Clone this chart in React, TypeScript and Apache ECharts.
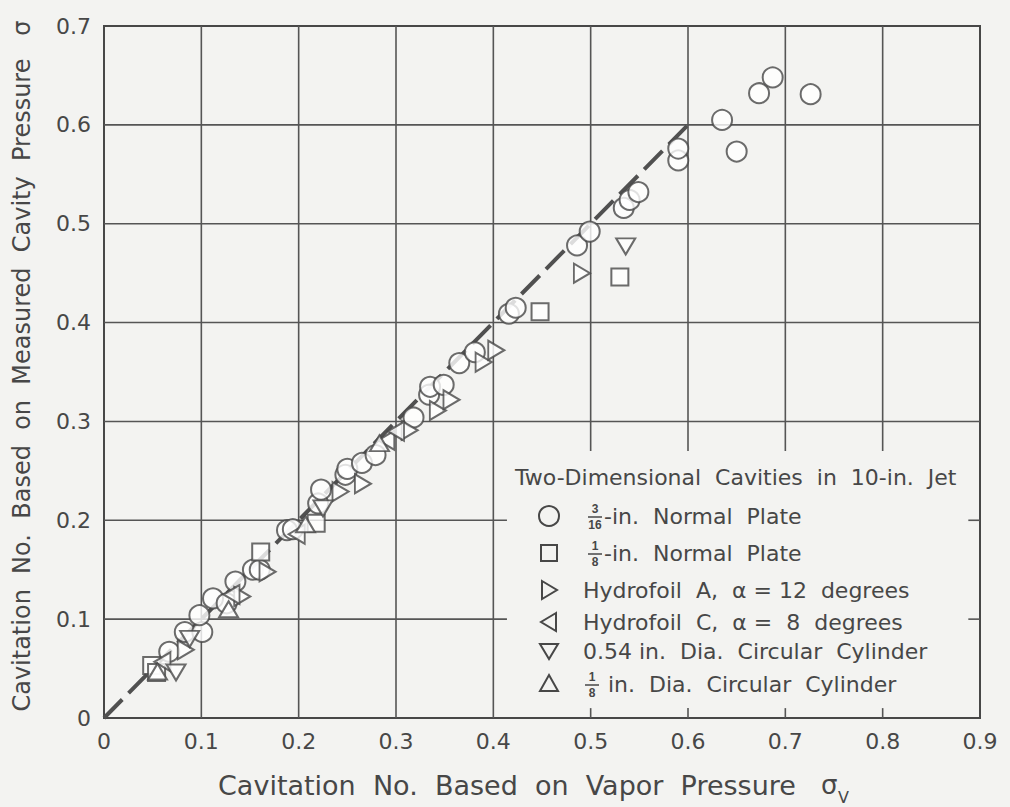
import React, { useEffect, useRef } from "react";
import * as echarts from "echarts";

// ---- data ----
const xTickValues = [0, 0.1, 0.2, 0.3, 0.4, 0.5, 0.6, 0.7, 0.8, 0.9];
const yTickValues = [0, 0.1, 0.2, 0.3, 0.4, 0.5, 0.6, 0.7];

const plate316: number[][] = [
  [0.067, 0.067], [0.083, 0.087], [0.101, 0.087], [0.098, 0.104], [0.112, 0.121],
  [0.126, 0.116], [0.135, 0.138], [0.153, 0.15], [0.16, 0.15], [0.188, 0.19],
  [0.194, 0.191], [0.22, 0.217], [0.223, 0.231], [0.248, 0.246], [0.25, 0.252],
  [0.265, 0.258], [0.279, 0.266], [0.318, 0.304], [0.334, 0.327], [0.335, 0.335],
  [0.349, 0.337], [0.365, 0.359], [0.381, 0.37], [0.416, 0.409], [0.423, 0.415],
  [0.486, 0.478], [0.499, 0.492], [0.534, 0.516], [0.54, 0.524], [0.549, 0.532],
  [0.59, 0.564], [0.59, 0.576], [0.635, 0.605], [0.65, 0.573], [0.673, 0.632],
  [0.687, 0.648], [0.726, 0.631],
];
const plate18: number[][] = [
  [0.049, 0.053], [0.054, 0.046], [0.161, 0.168], [0.218, 0.197], [0.448, 0.411], [0.53, 0.446],
];
const hydrofoilA: number[][] = [
  [0.084, 0.069], [0.142, 0.123], [0.168, 0.148], [0.243, 0.229], [0.266, 0.237],
  [0.314, 0.291], [0.343, 0.311], [0.357, 0.322], [0.39, 0.36], [0.403, 0.372], [0.491, 0.45],
];
const hydrofoilC: number[][] = [
  [0.06, 0.057], [0.131, 0.125], [0.198, 0.186], [0.29, 0.281], [0.3, 0.29],
];
const cylinder054: number[][] = [
  [0.074, 0.046], [0.088, 0.08], [0.225, 0.212], [0.536, 0.477],
];
const cylinder18: number[][] = [
  [0.055, 0.047], [0.128, 0.11], [0.207, 0.196], [0.283, 0.278],
];
const equalityLine: number[][] = [[0, 0], [0.6, 0.6]];

const seriesNames = [
  "3/16-in. Normal Plate",
  "1/8-in. Normal Plate",
  "Hydrofoil A, α = 12 degrees",
  "Hydrofoil C, α = 8 degrees",
  "0.54 in. Dia. Circular Cylinder",
  "1/8 in. Dia. Circular Cylinder",
];

// legend panel extent in data units (blank area that interrupts the grid)
const panelX = [0.414, 0.888];
const panelY = [0.01, 0.27];

const INK = "#474747";
const GRID = "#555555";
const BG = "#f3f3f1";
const FONT = '"DejaVu Sans", sans-serif';

const SYM_RIGHT = "path://M0,0L17,10L0,20Z";
const SYM_LEFT = "path://M17,0L0,10L17,20Z";
const SYM_DOWN = "path://M0,0L20,0L10,17Z";
const SYM_UP = "path://M10,0L20,17L0,17Z";

export default function App() {
  const ref = useRef<HTMLDivElement>(null);

  useEffect(() => {
    if (!ref.current) return;
    const chart = echarts.init(ref.current, undefined, { renderer: "svg" });

    const markStyle = { color: "#ffffff", borderColor: INK, borderWidth: 2 };
    const scatter = (name: string, data: number[][], symbol: string, size: number | number[]) => ({
      type: "scatter",
      name,
      data,
      symbol,
      symbolSize: size,
      itemStyle: markStyle,
      z: 4,
      silent: true,
    });

    const labelFmt = (v: number) => (v === 0 ? "0" : v.toFixed(1));

    chart.setOption({
      animation: false,
      backgroundColor: BG,
      grid: {
        left: 104,
        right: 30,
        top: 26,
        bottom: 89,
        show: true,
        borderColor: INK,
        borderWidth: 2,
        backgroundColor: "transparent",
      },
      xAxis: {
        type: "value",
        min: 0,
        max: 0.9,
        interval: 0.1,
        axisLine: { show: true, lineStyle: { color: INK, width: 2 } },
        axisTick: { show: false },
        splitLine: { show: false },
        axisLabel: { color: INK, fontSize: 22, fontFamily: FONT, margin: 12, formatter: labelFmt },
      },
      yAxis: {
        type: "value",
        min: 0,
        max: 0.7,
        interval: 0.1,
        axisLine: { show: true, lineStyle: { color: INK, width: 2 } },
        axisTick: { show: false },
        splitLine: { show: false },
        axisLabel: { color: INK, fontSize: 22, fontFamily: FONT, margin: 13, formatter: labelFmt },
      },
      series: [
        {
          type: "line",
          name: "σ = σv",
          data: equalityLine,
          symbol: "none",
          lineStyle: { color: "#505050", width: 4, type: [26, 9] },
          z: 3,
          silent: true,
        },
        scatter(seriesNames[0], plate316, "circle", 20),
        scatter(seriesNames[1], plate18, "rect", 17),
        scatter(seriesNames[2], hydrofoilA, SYM_RIGHT, [16, 19]),
        scatter(seriesNames[3], hydrofoilC, SYM_LEFT, [16, 19]),
        scatter(seriesNames[4], cylinder054, SYM_DOWN, [19, 16]),
        scatter(seriesNames[5], cylinder18, SYM_UP, [19, 16]),
      ],
    });

    const toPx = (x: number, y: number) => chart.convertToPixel({ gridIndex: 0 }, [x, y]) as number[];
    const xMin = xTickValues[0];
    const xMax = xTickValues[xTickValues.length - 1];
    const yMin = yTickValues[0];
    const yMax = yTickValues[yTickValues.length - 1];

    const seg = (a: number[], b: number[]) => ({
      type: "line",
      z: 1,
      silent: true,
      shape: { x1: a[0], y1: a[1], x2: b[0], y2: b[1] },
      style: { stroke: GRID, lineWidth: 1.6 },
    });

    const gridLines: any[] = [];
    xTickValues.slice(1, -1).forEach((xv) => {
      if (xv > panelX[0]) {
        gridLines.push(seg(toPx(xv, yMax), toPx(xv, panelY[1])));
        gridLines.push(seg(toPx(xv, panelY[0]), toPx(xv, yMin)));
      } else {
        gridLines.push(seg(toPx(xv, yMax), toPx(xv, yMin)));
      }
    });
    yTickValues.slice(1, -1).forEach((yv) => {
      if (yv < panelY[1]) {
        gridLines.push(seg(toPx(xMin, yv), toPx(panelX[0], yv)));
        gridLines.push(seg(toPx(panelX[1], yv), toPx(xMax, yv)));
      } else {
        gridLines.push(seg(toPx(xMin, yv), toPx(xMax, yv)));
      }
    });

    const txt = (text: string, x: number, y: number, size: number, extra: any = {}) => ({
      type: "text",
      x,
      y,
      z: 10,
      silent: true,
      style: {
        text,
        font: `${size}px ${FONT}`,
        fill: INK,
        align: "left",
        verticalAlign: "middle",
        ...extra,
      },
    });
    const symStyle = { fill: "transparent", stroke: INK, lineWidth: 2 };
    const sx = 549;
    const rows = [516, 553, 590, 622, 651, 684];
    const textX = 583;
    const LF = 22;

    const fraction = (num: string, den: string, cx: number, cy: number) => [
      txt(num, cx, cy - 8, 13, { align: "center", fontWeight: "bold" }),
      { type: "line", z: 10, silent: true, shape: { x1: cx - 7, y1: cy, x2: cx + 7, y2: cy }, style: { stroke: INK, lineWidth: 1.5 } },
      txt(den, cx, cy + 8, 13, { align: "center", fontWeight: "bold" }),
    ];

    chart.setOption({
      graphic: [
        ...gridLines,
        // legend
        txt("Two-Dimensional  Cavities  in  10-in.  Jet", 515, 477, LF),
        { type: "circle", z: 10, silent: true, shape: { cx: sx, cy: rows[0], r: 10 }, style: symStyle },
        ...fraction("3", "16", 595, rows[0] + 1),
        txt("-in.  Normal  Plate", 604, rows[0], LF),
        { type: "rect", z: 10, silent: true, shape: { x: sx - 8, y: rows[1] - 8, width: 16, height: 16 }, style: symStyle },
        ...fraction("1", "8", 595, rows[1] + 1),
        txt("-in.  Normal  Plate", 604, rows[1], LF),
        { type: "polygon", z: 10, silent: true, shape: { points: [[sx - 7, rows[2] - 9], [sx + 8, rows[2]], [sx - 7, rows[2] + 9]] }, style: symStyle },
        txt("Hydrofoil  A,  α = 12  degrees", textX, rows[2], LF),
        { type: "polygon", z: 10, silent: true, shape: { points: [[sx + 7, rows[3] - 9], [sx - 8, rows[3]], [sx + 7, rows[3] + 9]] }, style: symStyle },
        txt("Hydrofoil  C,  α =  8  degrees", textX, rows[3], LF),
        { type: "polygon", z: 10, silent: true, shape: { points: [[sx - 9, rows[4] - 7], [sx + 9, rows[4] - 7], [sx, rows[4] + 8]] }, style: symStyle },
        txt("0.54 in.  Dia.  Circular  Cylinder", textX, rows[4], LF),
        { type: "polygon", z: 10, silent: true, shape: { points: [[sx, rows[5] - 9], [sx + 9, rows[5] + 7], [sx - 9, rows[5] + 7]] }, style: symStyle },
        ...fraction("1", "8", 592, rows[5] + 1),
        txt(" in.  Dia.  Circular  Cylinder", 601, rows[5], LF),
        // axis titles
        {
          type: "text",
          x: 22,
          y: 366,
          rotation: Math.PI / 2,
          silent: true,
          z: 10,
          style: {
            text: "Cavitation  No.  Based  on  Measured  Cavity  Pressure   σ",
            font: `24px ${FONT}`,
            fill: INK,
            align: "center",
            verticalAlign: "middle",
          },
        },
        txt("Cavitation  No.  Based  on  Vapor  Pressure", 218, 785, 27),
        txt("σ", 821, 785, 26),
        txt("V", 838, 797, 16),
      ],
    });

    return () => chart.dispose();
  }, []);

  return (
    <div
      ref={ref}
      style={{ position: "fixed", left: 0, top: 0, width: 1010, height: 807 }}
    />
  );
}
